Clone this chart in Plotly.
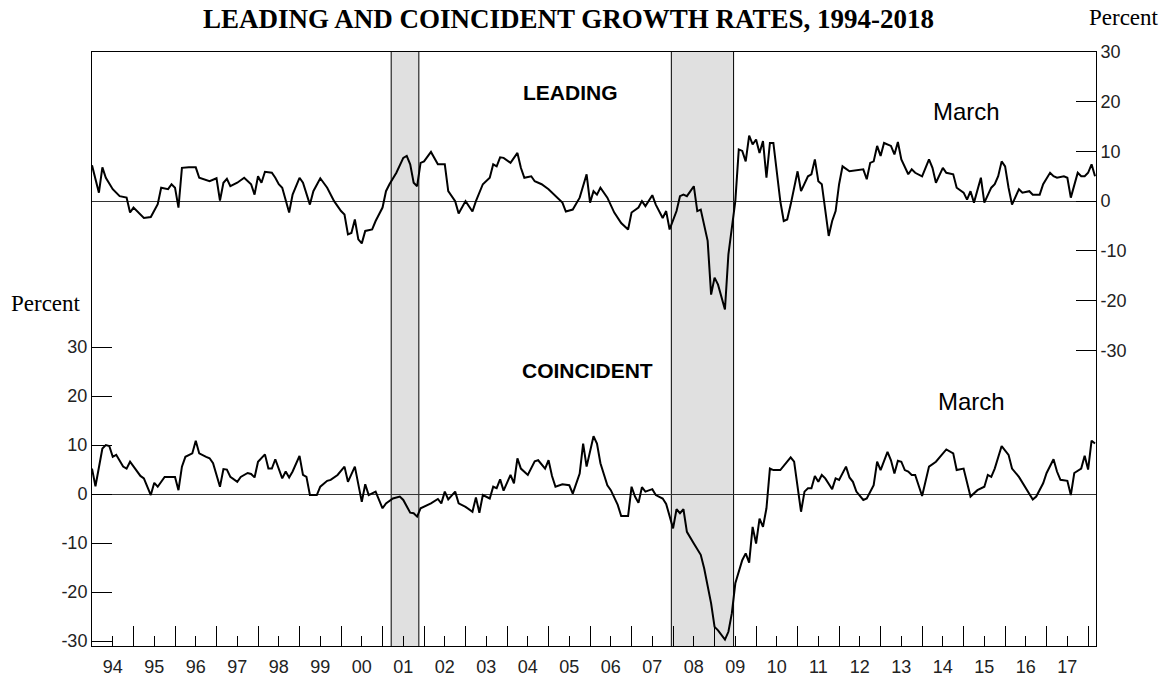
import plotly.graph_objects as go

# ---------------- data ----------------
lead_dates = ["1994-01","1994-03","1994-04","1994-05","1994-07","1994-09","1994-11","1994-12",
"1995-01","1995-04","1995-06","1995-08","1995-09","1995-11","1995-12",
"1996-01","1996-02","1996-03","1996-05","1996-07","1996-08","1996-11",
"1997-01","1997-02","1997-03","1997-04","1997-05","1997-07","1997-09","1997-11","1997-12",
"1998-01","1998-02","1998-03","1998-05","1998-06","1998-07","1998-08","1998-10","1998-11",
"1999-01","1999-02","1999-04","1999-05","1999-07","1999-09","1999-11",
"2000-01","2000-02","2000-03","2000-04","2000-05","2000-06","2000-07","2000-08","2000-10","2000-11","2000-12",
"2001-01","2001-02","2001-03","2001-05","2001-07","2001-08","2001-09","2001-10","2001-11","2001-12",
"2002-01","2002-03","2002-04","2002-05","2002-07","2002-08","2002-10","2002-11",
"2003-01","2003-03","2003-04","2003-06","2003-08","2003-09","2003-10","2003-11","2003-12",
"2004-02","2004-04","2004-05","2004-06","2004-08","2004-09","2004-11",
"2005-01","2005-02","2005-03","2005-05","2005-06","2005-08","2005-10","2005-12",
"2006-01","2006-02","2006-03","2006-04","2006-06","2006-08","2006-10","2006-12",
"2007-01","2007-03","2007-04","2007-05","2007-07","2007-08","2007-10","2007-11","2007-12",
"2008-02","2008-03","2008-04","2008-05","2008-07","2008-08","2008-09","2008-11","2008-12",
"2009-01","2009-02","2009-04","2009-05","2009-07","2009-08","2009-09","2009-10","2009-11","2009-12",
"2010-01","2010-02","2010-03","2010-04","2010-05","2010-06","2010-08","2010-09","2010-10","2010-11",
"2011-01","2011-02","2011-04","2011-05","2011-06","2011-07","2011-08","2011-10","2011-11","2011-12",
"2012-01","2012-02","2012-04","2012-07","2012-08","2012-09","2012-10","2012-11","2012-12",
"2013-01","2013-02","2013-04","2013-05","2013-06","2013-07","2013-09","2013-10","2013-11",
"2014-01","2014-03","2014-04","2014-05","2014-07","2014-08","2014-10","2014-11",
"2015-01","2015-02","2015-03","2015-04","2015-05","2015-06","2015-07","2015-09","2015-10","2015-11","2015-12",
"2016-01","2016-02","2016-03","2016-05","2016-06","2016-08","2016-09","2016-11","2016-12",
"2017-02","2017-03","2017-04","2017-06","2017-07","2017-08","2017-10","2017-11","2017-12",
"2018-01","2018-02","2018-03"]
lead_values = [7.2,1.7,6.8,4.7,2.4,1.0,0.7,-2.3,
-1.3,-3.4,-3.2,-0.6,2.7,2.4,3.4,
2.7,-1.3,6.7,6.8,6.8,4.7,4.0,
4.6,0.1,3.7,4.5,3.0,3.7,4.7,3.4,1.3,
5.0,3.7,5.9,5.7,4.7,3.4,2.7,-2.3,1.3,
4.7,3.7,-0.7,2.0,4.6,2.7,0.0,
-2.0,-2.7,-6.7,-6.4,-3.7,-7.7,-8.5,-6.0,-5.7,-4.0,-2.6,
-1.3,2.0,3.4,5.7,8.7,9.1,7.4,3.7,3.0,7.7,
8.0,9.9,8.7,7.4,7.4,2.0,0.0,-2.5,
0.0,-2.1,0.0,3.4,4.7,7.4,7.0,8.8,8.7,
7.7,9.7,6.7,4.7,5.0,4.0,3.4,
2.4,1.7,1.0,-0.3,-2.1,-1.7,0.7,5.4,
-0.3,2.0,1.3,2.7,0.7,-2.3,-4.4,-5.7,
-2.3,-1.3,0.0,-1.0,1.2,-0.7,-3.4,-2.0,-5.7,
-2.0,1.0,1.3,1.0,3.0,-2.0,-1.7,-8.0,-18.8,
-15.4,-16.8,-21.8,-10.7,0.0,10.4,10.1,8.0,13.2,11.4,
12.4,9.7,12.1,4.7,11.7,11.7,0.0,-4.0,-3.7,-0.7,
6.0,2.0,5.0,5.4,8.4,4.0,3.4,-7.0,-4.0,-2.0,
3.4,7.0,6.0,6.4,6.4,4.4,7.7,8.0,11.1,
9.1,11.7,11.1,9.4,11.9,8.4,5.4,6.4,5.7,
5.0,8.4,6.7,3.7,6.7,5.7,5.4,2.7,
1.7,0.3,2.0,-0.3,2.0,4.7,-0.3,2.7,3.4,5.0,8.0,
7.0,2.7,-0.7,2.4,1.7,2.0,1.3,1.3,3.4,
5.7,5.0,4.7,5.0,4.7,0.7,5.7,5.0,5.0,
5.7,7.4,5.0]

coin_dates = ["1994-01","1994-02","1994-04","1994-05","1994-06","1994-07","1994-08","1994-10","1994-11","1994-12",
"1995-03","1995-04","1995-06","1995-07","1995-08","1995-10","1995-12",
"1996-01","1996-02","1996-03","1996-04","1996-06","1996-07","1996-08","1996-10","1996-11","1996-12",
"1997-02","1997-03","1997-04","1997-05","1997-07","1997-08","1997-10","1997-11","1997-12",
"1998-01","1998-02","1998-03","1998-04","1998-05","1998-06","1998-08","1998-09","1998-10","1998-11",
"1999-01","1999-02","1999-03","1999-04","1999-06","1999-07","1999-09","1999-10","1999-12",
"2000-02","2000-03","2000-05","2000-07","2000-08","2000-09","2000-11",
"2001-01","2001-02","2001-04","2001-06","2001-07","2001-09","2001-10","2001-11","2001-12",
"2002-03","2002-05","2002-06","2002-07","2002-08","2002-10","2002-11",
"2003-01","2003-03","2003-04","2003-05","2003-06","2003-08","2003-09","2003-10","2003-11","2003-12",
"2004-02","2004-03","2004-04","2004-05","2004-07","2004-09","2004-10","2004-12",
"2005-01","2005-02","2005-03","2005-05","2005-07","2005-08","2005-10","2005-11","2005-12",
"2006-02","2006-03","2006-04","2006-06","2006-07","2006-09","2006-10","2006-12",
"2007-01","2007-02","2007-03","2007-04","2007-05","2007-07","2007-08","2007-10","2007-11",
"2008-01","2008-02","2008-03","2008-04","2008-05","2008-07","2008-09","2008-10","2008-12",
"2009-01","2009-02","2009-04","2009-05","2009-06","2009-07","2009-09","2009-10","2009-11","2009-12",
"2010-01","2010-02","2010-03","2010-04","2010-05","2010-06","2010-08","2010-09","2010-11","2010-12",
"2011-02","2011-03","2011-04","2011-05","2011-06","2011-07","2011-08","2011-09","2011-11","2011-12",
"2012-01","2012-03","2012-04","2012-05","2012-06","2012-08","2012-09","2012-11","2012-12",
"2013-01","2013-03","2013-04","2013-05","2013-06","2013-07","2013-08","2013-09","2013-10","2013-11",
"2014-01","2014-02","2014-03","2014-05","2014-08","2014-10","2014-11",
"2015-01","2015-02","2015-03","2015-05","2015-07","2015-08","2015-09","2015-10","2015-12",
"2016-02","2016-03","2016-05","2016-07","2016-09","2016-10","2016-12",
"2017-01","2017-03","2017-04","2017-05","2017-07","2017-08","2017-09","2017-11","2017-12",
"2018-01","2018-02","2018-03"]
coin_values = [5.2,1.6,9.3,10.0,9.8,7.6,8.0,5.6,5.2,6.6,
3.7,3.2,-0.2,2.3,1.5,3.5,3.5,
3.5,0.8,5.6,7.6,8.3,10.9,8.3,7.6,7.3,6.3,
1.5,5.1,5.0,3.5,2.5,3.5,4.3,4.1,3.4,
6.6,7.4,8.1,5.2,5.2,7.1,3.2,4.6,3.4,4.6,
7.8,3.9,3.5,-0.2,-0.2,1.5,2.7,2.9,3.9,
5.6,2.5,5.6,-1.6,2.0,-0.2,0.5,
-2.9,-1.9,-0.9,-0.5,-1.2,-3.8,-3.9,-4.6,-2.9,
-1.9,-1.0,-1.9,0.5,-1.1,0.5,-1.9,
-2.6,-3.6,-0.7,-3.8,-0.2,-0.9,1.5,1.2,3.0,0.7,
3.9,2.2,7.3,5.2,3.9,6.7,6.9,5.2,
6.9,3.7,1.5,2.0,1.8,0.1,4.2,10.3,5.6,
11.8,10.3,6.3,1.8,0.8,-2.2,-4.5,-4.5,
1.5,-0.5,-1.8,1.4,0.5,1.0,-0.2,-0.9,-2.0,
-7.0,-3.1,-3.9,-3.1,-7.7,-10.1,-12.4,-15.2,-22.3,
-27.1,-27.8,-29.7,-28.1,-24.3,-18.2,-13.5,-12.1,-14.0,-6.7,
-10.1,-5.0,-6.7,-2.9,5.2,4.9,4.9,5.7,7.5,6.6,
-3.6,0.5,1.2,1.2,3.7,2.5,3.9,3.2,1.0,3.2,
2.9,5.6,3.4,2.5,0.5,-1.2,-0.9,1.8,6.6,
4.9,8.6,6.9,4.2,6.8,6.6,4.9,4.6,3.9,3.9,
-0.4,2.9,5.6,6.6,9.1,8.3,4.9,
5.2,2.3,-0.5,0.8,1.5,3.9,3.5,5.2,9.8,
8.0,5.2,3.5,1.2,-1.1,-0.5,2.2,
4.3,7.1,4.6,2.9,2.7,-0.2,4.3,5.2,7.8,
5.0,10.9,10.3]

recession_start = ["2001-03", "2007-12"]
recession_end = ["2001-11", "2009-06"]

year_labels = ["94","95","96","97","98","99","00","01","02","03","04","05",
               "06","07","08","09","10","11","12","13","14","15","16","17"]
first_year = 1994
y_ticks = [-30, -20, -10, 0, 10, 20, 30]
y_tick_text = ["-30", "-20", "-10", "0", "10", "20", "30"]


def to_dec(s, offset=0.0):
    y, m = s.split("-")
    return int(y) + (int(m) - 1) / 12.0 + offset


lead_x = [to_dec(d) for d in lead_dates]
coin_x = [to_dec(d) for d in coin_dates]

SANS = "Arial, Liberation Sans, sans-serif"
SERIF = "Times New Roman, Liberation Serif, serif"
TICKFONT = dict(family=SANS, size=18, color="#222")

fig = go.Figure()

fig.add_trace(go.Scatter(x=coin_x, y=coin_values, mode="lines", yaxis="y",
                         line=dict(color="black", width=2), showlegend=False,
                         hoverinfo="skip"))
fig.add_trace(go.Scatter(x=lead_x, y=lead_values, mode="lines", yaxis="y2",
                         line=dict(color="black", width=2), showlegend=False,
                         hoverinfo="skip"))

# recession shading with black edges
for s, e in zip(recession_start, recession_end):
    x0 = to_dec(s, 1 / 24)
    x1 = to_dec(e, 1 / 24)
    fig.add_shape(type="rect", xref="x", yref="paper", x0=x0, x1=x1, y0=0, y1=1,
                  fillcolor="#e0e0e0", line=dict(width=0), layer="below")
    for xv in (x0, x1):
        fig.add_shape(type="line", xref="x", yref="paper", x0=xv, x1=xv, y0=0, y1=1,
                      line=dict(color="black", width=1), layer="below")

mid_years = [first_year + i + 0.5 for i in range(len(year_labels))]
year_starts = [first_year + i for i in range(1, len(year_labels) + 1)]

fig.update_layout(
    width=1171, height=680,
    margin=dict(l=92, r=75, t=52, b=34, autoexpand=False),
    paper_bgcolor="white", plot_bgcolor="white",
    xaxis=dict(range=[1994.0, 2018.19], tickmode="array", tickvals=mid_years,
               ticktext=year_labels, ticks="inside", ticklen=10, tickwidth=1,
               tickcolor="black", showgrid=False, zeroline=False,
               showline=True, linecolor="black", linewidth=1, mirror=True,
               tickfont=TICKFONT, ticklabelstandoff=4,
               minor=dict(tickmode="array", tickvals=year_starts, ticks="inside",
                          ticklen=20, tickwidth=1, tickcolor="black", showgrid=False)),
    yaxis=dict(range=[-31.0, 90.2], tickmode="array", tickvals=y_ticks,
               ticktext=y_tick_text,
               ticks="inside", ticklen=20, tickwidth=1, tickcolor="black",
               showgrid=False, zeroline=True, zerolinecolor="#333", zerolinewidth=1,
               showline=True, linecolor="black", linewidth=1,
               tickfont=TICKFONT),
    yaxis2=dict(range=[-89.5, 30.0], overlaying="y", side="right",
                tickmode="array", tickvals=y_ticks, ticktext=y_tick_text,
                ticks="inside", ticklen=20, tickwidth=1, tickcolor="black",
                showgrid=False, zeroline=True, zerolinecolor="#333", zerolinewidth=1,
                showline=True, linecolor="black", linewidth=1,
                tickfont=TICKFONT),
)

# text positions given in canvas pixels, converted to paper coordinates
pl, pr, pt, pb = 92, 1096, 52, 646
ann = [
    ("<b>LEADING AND COINCIDENT GROWTH RATES, 1994-2018</b>", 568, 19, SERIF, 27),
    ("Percent", 1124, 18, SERIF, 23),
    ("Percent", 46, 303, SERIF, 23),
    ("<b>LEADING</b>", 570, 93, SANS, 21),
    ("<b>COINCIDENT</b>", 587, 371, SANS, 21),
    ("March", 966, 111, SANS, 24),
    ("March", 971, 401, SANS, 24),
]
for text, px, py, fam, size in ann:
    fig.add_annotation(text=text, x=(px - pl) / (pr - pl), y=(pb - py) / (pb - pt),
                       xref="paper", yref="paper", showarrow=False,
                       xanchor="center", yanchor="middle",
                       font=dict(family=fam, size=size, color="black"))

fig.write_html("out.html", config={"displayModeBar": False},
               post_script="document.body.style.margin='0';")
